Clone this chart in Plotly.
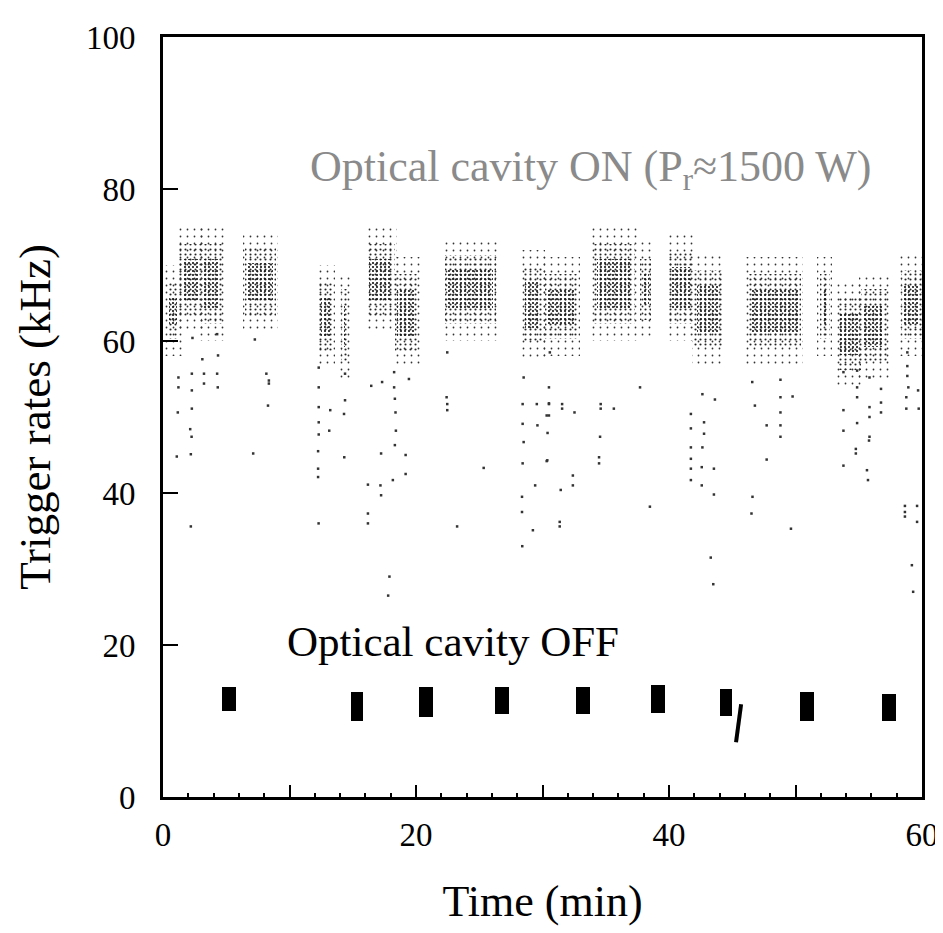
import plotly.graph_objects as go

# ---------------- data ----------------
# dense "cavity ON" bursts: time span (min) and rate span (kHz)
on_t0 = [0.3, 1.3, 3.0, 6.5, 12.3, 14.1, 16.1, 18.3, 22.3, 28.4, 30.2, 34.1, 37.7, 39.9, 42.0, 46.3, 51.9, 53.3, 55.2, 58.3]
on_t1 = [1.3, 3.0, 4.7, 8.9, 13.4, 14.6, 18.3, 20.2, 26.3, 30.0, 32.8, 37.3, 38.6, 42.0, 44.2, 50.4, 52.7, 55.2, 57.2, 60.0]
on_lo = [61.0, 64.0, 63.0, 64.0, 59.5, 58.0, 64.0, 59.5, 63.0, 60.5, 61.0, 63.0, 63.5, 63.0, 60.0, 60.0, 61.0, 57.0, 58.0, 61.0]
on_hi = [67.0, 72.0, 72.0, 71.5, 67.0, 66.0, 72.0, 68.0, 70.5, 69.0, 68.0, 72.0, 70.0, 71.0, 68.5, 68.0, 68.0, 65.0, 66.0, 68.5]

# isolated low-rate "cavity ON" samples (min, kHz)
on_out_t = [1.22, 1.22, 1.17, 1.09, 2.28, 2.28, 2.28, 2.15, 2.26, 2.2, 3.24, 3.24, 3.11, 4.28, 4.33, 4.35, 4.28, 2.33,
            8.17, 8.37, 8.37, 8.3, 7.13, 7.26, 12.31, 12.31, 12.31, 12.31, 12.31, 12.26, 12.26, 12.26, 13.22, 13.14,
            14.39, 14.39, 14.31, 14.33, 16.46, 17.32, 18.27, 18.27, 18.33, 18.38, 18.41, 18.33, 18.17, 17.24, 17.19,
            17.24, 16.2, 16.2, 16.2, 19.44, 19.18, 19.18, 22.47, 22.42, 22.47, 22.47, 25.35, 23.25, 28.51, 28.43,
            28.43, 28.51, 28.43, 28.38, 28.38, 29.55, 29.6, 30.33, 30.38, 30.51, 29.42, 29.24, 2.2,
            30.58, 30.51, 30.51, 30.51, 31.55, 31.55, 32.53, 30.4, 30.33, 31.44, 32.4, 32.4, 31.36, 31.36, 34.6, 34.6,
            35.64, 34.55, 34.47, 34.47, 37.71, 38.49, 42.64, 43.63, 41.73, 41.73, 42.77, 42.77, 41.73, 42.64, 41.73,
            41.73, 42.59, 43.55, 41.73, 42.59, 43.55, 46.58, 46.79, 46.6, 46.52, 47.72, 47.72, 48.81, 48.81, 48.81,
            48.81, 48.81, 49.77, 49.64, 53.79, 53.79, 53.79, 53.79, 54.87, 54.87, 54.87, 54.87, 54.77, 54.77, 55.85,
            55.85, 55.85, 55.85, 55.81, 55.65, 55.73, 56.76, 56.76, 56.76, 58.84, 58.84, 58.84, 58.92, 58.76, 58.76,
            58.65, 58.65, 58.65, 59.69, 59.74, 59.61, 59.61,
            17.8, 17.9, 43.3, 43.5, 59.2, 59.3, 28.4, 12.3]
on_out_r = [55.2, 53.9, 50.6, 44.8, 55.7, 53.5, 51.1, 48.4, 47.4, 45.1, 55.7, 54.4, 57.6, 55.7, 53.9, 58.1, 60.9, 60.4,
            55.7, 54.8, 54.4, 51.5, 45.2, 60.2, 56.5, 53.9, 51.3, 49.3, 47.7, 45.5, 43.2, 42.1, 50.9, 48.2,
            55.7, 52.2, 50.4, 44.7, 54.1, 54.6, 55.9, 53.9, 52.4, 50.6, 48.2, 46.3, 41.7, 45.2, 41.0,
            39.7, 41.1, 37.3, 36.0, 55.0, 45.0, 42.5, 58.5, 52.6, 51.7, 50.9, 43.3, 35.6, 55.2, 51.7,
            49.1, 46.7, 43.9, 39.5, 37.5, 51.7, 48.9, 50.2, 44.3, 51.7, 41.0, 35.1, 35.6,
            58.5, 53.9, 51.8, 50.2, 51.7, 51.1, 50.6, 47.9, 44.2, 40.4, 42.3, 41.0, 36.2, 35.6, 51.7, 51.1,
            51.1, 47.4, 44.7, 43.9, 53.9, 38.2, 53.0, 52.3, 50.4, 48.5, 49.3, 47.8, 46.0, 46.0, 44.5,
            43.2, 43.4, 43.2, 41.7, 41.0, 39.8, 54.6, 51.5, 39.5, 37.3, 48.9, 44.4, 54.9, 52.6, 50.6,
            48.9, 47.4, 52.7, 35.3, 55.9, 50.9, 48.2, 43.6, 56.1, 53.9, 52.6, 49.2, 45.8, 45.2, 55.2,
            51.3, 50.0, 47.4, 46.9, 43.0, 41.7, 53.7, 51.9, 50.6, 58.5, 56.7, 55.4, 53.9, 52.6, 51.1,
            38.3, 37.5, 36.9, 53.5, 51.1, 38.3, 36.2,
            26.5, 29.0, 31.5, 28.0, 30.5, 27.0, 33.0, 36.0]

# "cavity OFF" measurements: centre time (min), rate span (kHz)
off_t = [5.2, 15.3, 20.8, 26.8, 33.2, 39.1, 44.5, 50.9, 57.4]
off_lo = [11.3, 10.0, 10.5, 10.9, 10.9, 11.1, 10.6, 10.0, 10.0]
off_hi = [14.5, 13.8, 14.5, 14.5, 14.5, 14.8, 14.2, 13.8, 13.5]
off_span = [1.1, 0.95, 1.1, 1.1, 1.1, 1.1, 0.9, 1.1, 1.1]

# short falling streak near t = 45 min
streak_t = [45.7, 45.3]
streak_r = [12.2, 7.2]

x_label_vals = [0, 20, 40, 60]
x_label_text = ["0", "20", "40", "60"]
x_major_vals = [0, 10, 20, 30, 40, 50, 60]
y_tick_vals = [0, 20, 40, 60, 80, 100]
y_tick_text = ["0", "20", "40", "60", "80", "100"]

FONT = "Liberation Serif"

# ---------------- figure ----------------
fig = go.Figure()

on_mid = [(a + b) / 2 for a, b in zip(on_t0, on_t1)]
on_w = [b - a for a, b in zip(on_t0, on_t1)]


def burst_layer(pad_r, pad_t, size, solidity, color):
    fig.add_trace(go.Bar(
        x=on_mid,
        base=[l - pad_r for l in on_lo],
        y=[max(h - l + 2 * pad_r, 0.3) for l, h in zip(on_lo, on_hi)],
        width=[max(w + 2 * pad_t, 0.15) for w in on_w],
        marker=dict(color=color, line=dict(width=0),
                    pattern=dict(shape=".", size=size, solidity=solidity, fillmode="replace")),
        showlegend=False, hoverinfo="skip"))


# sparse halo -> medium band -> dense core
burst_layer(3.0, 0.2, 7, 0.05, "#333333")
burst_layer(0.8, 0.0, 5, 0.14, "#262626")
burst_layer(-1.2, -0.2, 4, 0.22, "#111111")

fig.add_trace(go.Scatter(
    x=on_out_t, y=on_out_r, mode="markers",
    marker=dict(symbol="square", size=2.5, color="#333333", line=dict(width=0)),
    showlegend=False, hoverinfo="skip"))

fig.add_trace(go.Bar(
    x=off_t, base=off_lo, y=[h - l for l, h in zip(off_lo, off_hi)], width=off_span,
    marker=dict(color="black", line=dict(width=0)),
    showlegend=False, hoverinfo="skip"))

# the streak is drawn on the overlaid tick-only axis so that axis is rendered
fig.add_trace(go.Scatter(
    x=streak_t, y=streak_r, mode="lines", xaxis="x2",
    line=dict(color="black", width=4),
    showlegend=False, hoverinfo="skip"))

fig.add_annotation(x=33.8, y=82.6, xref="x", yref="y", showarrow=False,
                   text="Optical cavity ON (P<sub>r</sub>≈1500 W)",
                   font=dict(family=FONT, size=44, color="#8a8a8a"))
fig.add_annotation(x=22.9, y=20.5, xref="x", yref="y", showarrow=False,
                   text="Optical cavity OFF",
                   font=dict(family=FONT, size=43, color="black"))

axis_common = dict(showline=True, linecolor="black", linewidth=3, mirror=True,
                   showgrid=False, zeroline=False, ticks="inside", tickcolor="black",
                   tickfont=dict(family=FONT, size=33, color="black"))

fig.update_layout(
    xaxis=dict(range=[0, 60], tickmode="array", tickvals=x_label_vals, ticktext=x_label_text,
               ticklen=12, tickwidth=2, ticklabelstandoff=6, ticklabeloverflow="allow",
               minor=dict(tickmode="linear", tick0=0, dtick=2, ticks="inside", ticklen=4,
                          tickwidth=1.5, tickcolor="black", showgrid=False),
               title=dict(text="Time (min)", font=dict(family=FONT, size=44, color="black"),
                          standoff=34),
               **axis_common),
    xaxis2=dict(range=[0, 60], overlaying="x", side="bottom", anchor="y",
                tickmode="array", tickvals=x_major_vals, showticklabels=False,
                ticks="inside", ticklen=12, tickwidth=2, tickcolor="black",
                showline=False, showgrid=False, zeroline=False),
    yaxis=dict(range=[0, 100], tickmode="array", tickvals=y_tick_vals, ticktext=y_tick_text,
               ticklen=15, tickwidth=2, ticklabelstandoff=18,
               title=dict(text="Trigger rates (kHz)", font=dict(family=FONT, size=45, color="black"),
                          standoff=22),
               **axis_common),
    width=943, height=933,
    margin=dict(l=155, r=20, t=24, b=144, pad=0),
    paper_bgcolor="white", plot_bgcolor="white",
    barmode="overlay", bargap=0,
    showlegend=False,
)

fig.write_html("out.html")
